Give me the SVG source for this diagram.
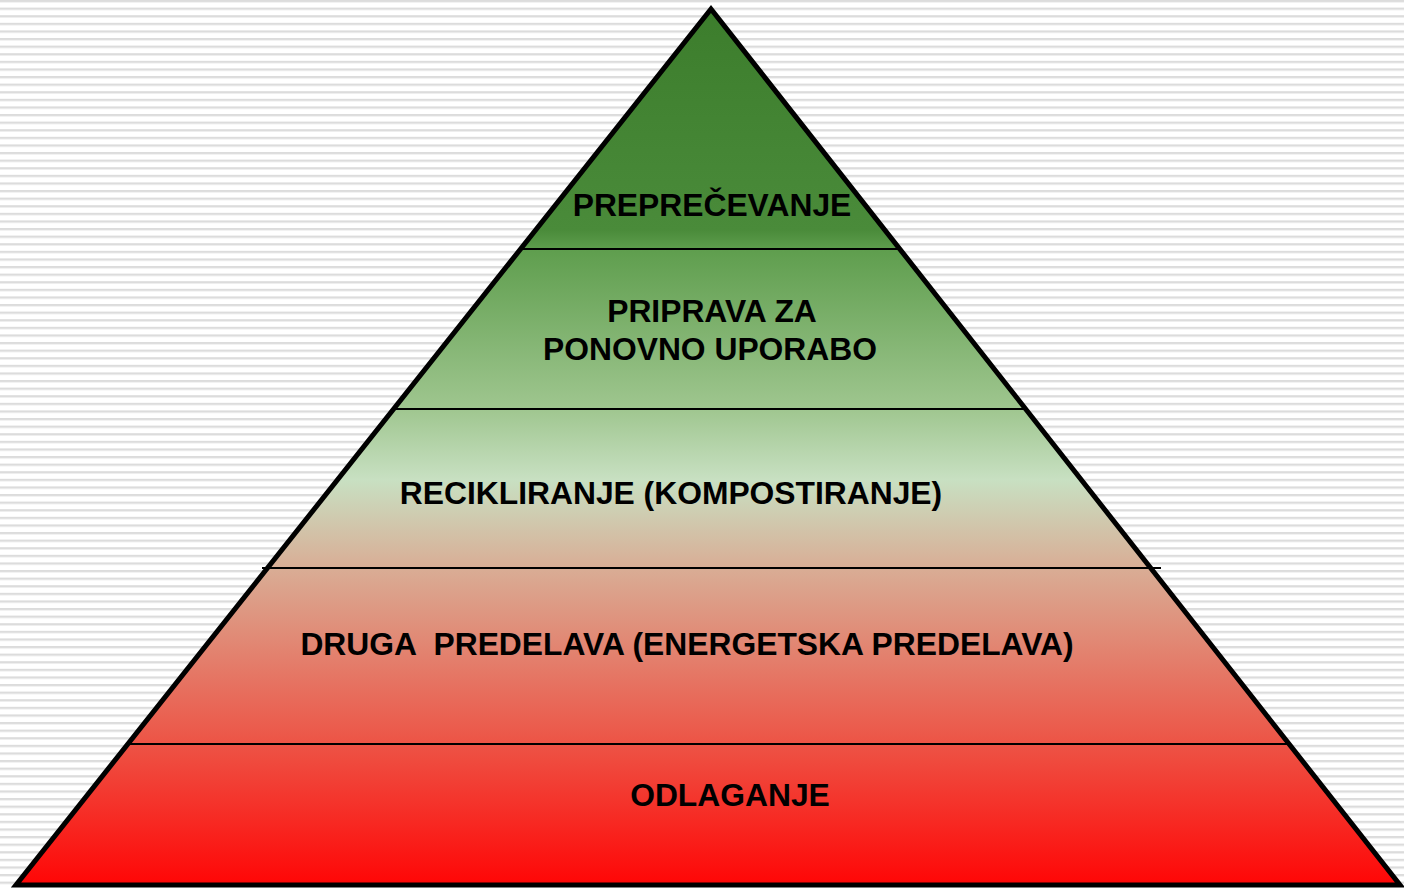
<svg xmlns="http://www.w3.org/2000/svg" width="1404" height="888" viewBox="0 0 1404 888">
<defs>
<pattern id="stripes" x="0" y="0" width="20" height="7.6" patternUnits="userSpaceOnUse">
<rect x="0" y="0" width="20" height="2.3" fill="#dcdcdc"/>
</pattern>
<linearGradient id="grad" gradientUnits="userSpaceOnUse" x1="0" y1="8" x2="0" y2="885">
<stop offset="0" stop-color="#3c7d2c"/>
<stop offset="0.253" stop-color="#4a8b3a"/>
<stop offset="0.276" stop-color="#5f9e4e"/>
<stop offset="0.457" stop-color="#9fc68f"/>
<stop offset="0.538" stop-color="#c8e0c2"/>
<stop offset="0.639" stop-color="#d9ad95"/>
<stop offset="0.84" stop-color="#ed5345"/>
<stop offset="1" stop-color="#ff0606"/>
</linearGradient>
<style>
.lbl{font-family:"Liberation Sans",Arial,sans-serif;font-weight:bold;font-size:31.8px;fill:#000;text-anchor:middle;white-space:pre}
.sep{stroke:#000;stroke-width:2}
</style>
</defs>
<rect width="1404" height="888" fill="#ffffff"/>
<rect width="1404" height="888" fill="url(#stripes)"/>
<g id="pyramid">
<polygon points="711,9 1400,885 16,885" fill="url(#grad)" stroke="#000" stroke-width="5"/>
</g>
<g id="connectors">
<line class="sep" x1="522" y1="249" x2="899" y2="249"/>
<line class="sep" x1="396" y1="409" x2="1027" y2="409"/>
<line class="sep" x1="262" y1="568" x2="1161" y2="568"/>
<line class="sep" x1="130" y1="744" x2="1291" y2="744"/>
</g>
<g id="level1"><text class="lbl" x="712" y="216">PREPREČEVANJE</text></g>
<g id="level2"><text class="lbl" x="712" y="322">PRIPRAVA ZA</text><text class="lbl" x="710" y="360">PONOVNO UPORABO</text></g>
<g id="level3"><text class="lbl" x="671" y="504">RECIKLIRANJE (KOMPOSTIRANJE)</text></g>
<g id="level4"><text class="lbl" x="687" y="655">DRUGA  PREDELAVA (ENERGETSKA PREDELAVA)</text></g>
<g id="level5"><text class="lbl" x="730" y="806">ODLAGANJE</text></g>
</svg>
